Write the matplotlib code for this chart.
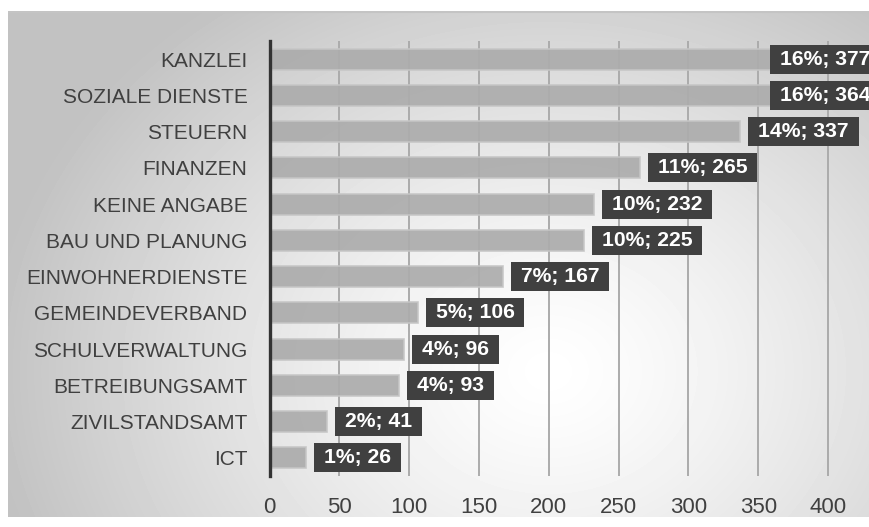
import numpy as np
import matplotlib
matplotlib.use("Agg")
import matplotlib.pyplot as plt
from matplotlib.patches import Rectangle

plt.rcParams['font.family'] = ['Liberation Sans', 'DejaVu Sans']

categories = ["KANZLEI", "SOZIALE DIENSTE", "STEUERN", "FINANZEN", "KEINE ANGABE",
              "BAU UND PLANUNG", "EINWOHNERDIENSTE", "GEMEINDEVERBAND",
              "SCHULVERWALTUNG", "BETREIBUNGSAMT", "ZIVILSTANDSAMT", "ICT"]
counts = [377, 364, 337, 265, 232, 225, 167, 106, 96, 93, 41, 26]
shares = [16, 16, 14, 11, 10, 10, 7, 5, 4, 4, 2, 1]
xticks = [0, 50, 100, 150, 200, 250, 300, 350, 400]

W, H = 870, 527
fig = plt.figure(figsize=(W / 100, H / 100), dpi=100)
fig.patch.set_facecolor("white")

# gradient panel behind the chart
bg = fig.add_axes([8 / W, (H - 517) / H, (W - 8) / W, (517 - 11) / H], zorder=0)
yy, xx = np.mgrid[0:506, 0:862]
d = np.sqrt(((xx - 540) / 560.0) ** 2 + ((yy - 360) / 460.0) ** 2)
shade = 1.0 - 0.24 * np.clip(d, 0, 1) ** 1.3
bg.imshow(shade, cmap="gray", vmin=0, vmax=1, aspect="auto", interpolation="bilinear")
bg.axhline(0, color="#c4c4c4", lw=1.5)
bg.set_axis_off()

ax = fig.add_axes([269.6 / W, (H - 476) / H, 1 - 269.6 / W, (476 - 41) / H], zorder=1)
ax.set_facecolor("none")
y = np.arange(len(categories))
ax.barh(y, counts, height=0.58, color="#acacac", edgecolor="#c6c6c6", linewidth=1.2,
        alpha=0.92, zorder=2)
ax.set_xlim(0, 430)
ax.set_ylim(len(categories) - 0.5, -0.5)

for xt in xticks[1:]:
    ax.axvline(xt, color="#ababab", lw=1.4, zorder=1)

for spine in ["top", "right", "bottom"]:
    ax.spines[spine].set_visible(False)
ax.spines["left"].set_color("#333333")
ax.spines["left"].set_linewidth(2.4)
ax.spines["left"].set_zorder(3)

ax.set_yticks(y)
ax.set_yticklabels(categories, fontsize=15, color="#404040")
ax.set_xticks(xticks)
ax.set_xticklabels([str(t) for t in xticks], fontsize=16, color="#404040")
ax.tick_params(axis="y", length=0, pad=16)
ax.tick_params(axis="x", length=0, pad=15)

# value labels: text first, dark boxes drawn behind once sizes are known
labels = []
for yi, c, s in zip(y, counts, shares):
    x0 = min(c + 12.9, 365.6)
    t = ax.text(x0, yi, f"{s}%; {c}", ha="left", va="center", fontsize=15.2,
                fontweight="bold", color="white", zorder=4, clip_on=False)
    labels.append(t)

fig.canvas.draw()
inv = ax.transData.inverted()
padx, pady = 10, 5
for t in labels:
    bb = t.get_window_extent()
    (x1, y1) = inv.transform((bb.x0 - padx, bb.y0 - pady))
    (x2, y2) = inv.transform((bb.x1 + padx, bb.y1 + pady))
    ax.add_patch(Rectangle((x1, y1), x2 - x1, y2 - y1, facecolor="#404040",
                           edgecolor="none", zorder=3.5, clip_on=False))

fig.savefig("out.png", dpi=100)
